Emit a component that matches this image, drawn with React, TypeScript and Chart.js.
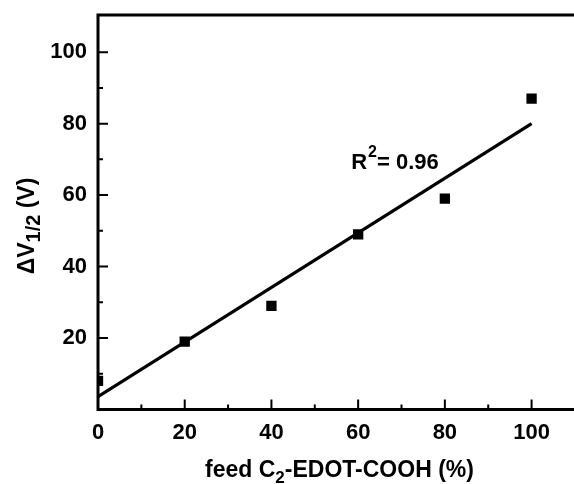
import React, { useEffect, useRef } from "react";
import { Chart, registerables } from "chart.js";

Chart.register(...registerables);

// ---- data ----
const feedPercent = [0, 20, 40, 60, 80, 100];
const deltaV = [8, 19, 29, 49, 59, 87];
const fitX = [0, 100];
const fitY = [3.6, 80.0];
const xTickValues = [0, 20, 40, 60, 80, 100];
const xMinorValues = [10, 30, 50, 70, 90];
const yTickValues = [20, 40, 60, 80, 100];
const yMinorValues = [10, 30, 50, 70, 90];
const r2Label = { base: "R", sup: "2", rest: "= 0.96" };
const r2Anchor = { x: 58.4, y: 67.3 };

const FONT = "'Liberation Sans', Arial, sans-serif";

const framePlugin = {
  id: "frame",
  afterDatasetsDraw(chart: any) {
    const { ctx, chartArea, scales } = chart;
    const { left, top, bottom } = chartArea;
    const right = chart.width;
    const xs = scales.x;
    const ys = scales.y;
    ctx.save();
    ctx.strokeStyle = "#000";
    ctx.lineCap = "butt";
    // ticks
    ctx.lineWidth = 2;
    ctx.beginPath();
    xTickValues.forEach((v) => {
      const px = xs.getPixelForValue(v);
      ctx.moveTo(px, bottom);
      ctx.lineTo(px, bottom - 10);
    });
    xMinorValues.forEach((v) => {
      const px = xs.getPixelForValue(v);
      ctx.moveTo(px, bottom);
      ctx.lineTo(px, bottom - 5);
    });
    yTickValues.forEach((v) => {
      const py = ys.getPixelForValue(v);
      ctx.moveTo(left, py);
      ctx.lineTo(left + 10, py);
    });
    yMinorValues.forEach((v) => {
      const py = ys.getPixelForValue(v);
      ctx.moveTo(left, py);
      ctx.lineTo(left + 5, py);
    });
    ctx.stroke();
    // frame
    ctx.lineWidth = 3;
    ctx.beginPath();
    ctx.moveTo(right, top);
    ctx.lineTo(left, top);
    ctx.lineTo(left, bottom);
    ctx.lineTo(right, bottom);
    ctx.stroke();

    // R^2 annotation
    ctx.fillStyle = "#000";
    ctx.textBaseline = "alphabetic";
    ctx.textAlign = "left";
    let ax = xs.getPixelForValue(r2Anchor.x);
    const ay = ys.getPixelForValue(r2Anchor.y);
    ctx.font = `bold 22px ${FONT}`;
    ctx.fillText(r2Label.base, ax, ay);
    ax += ctx.measureText(r2Label.base).width + 1;
    ctx.font = `bold 16px ${FONT}`;
    ctx.fillText(r2Label.sup, ax, ay - 12);
    ax += ctx.measureText(r2Label.sup).width;
    ctx.font = `bold 22px ${FONT}`;
    ctx.fillText(r2Label.rest, ax, ay);

    // X title
    const parts = [
      { t: "feed C", s: 23, dy: 0 },
      { t: "2", s: 17, dy: 6 },
      { t: "-EDOT-COOH (%)", s: 23, dy: 0 },
    ];
    let total = 0;
    parts.forEach((p) => {
      ctx.font = `bold ${p.s}px ${FONT}`;
      total += ctx.measureText(p.t).width;
    });
    let tx = 339.5 - total / 2;
    const ty = 477;
    parts.forEach((p) => {
      ctx.font = `bold ${p.s}px ${FONT}`;
      ctx.fillText(p.t, tx, ty + p.dy);
      tx += ctx.measureText(p.t).width;
    });

    // Y title (rotated)
    const yparts = [
      { t: "\u0394V", s: 23, dy: 0 },
      { t: "1/2", s: 20, dy: 6 },
      { t: " (V)", s: 23, dy: 0 },
    ];
    let ytotal = 0;
    yparts.forEach((p) => {
      ctx.font = `bold ${p.s}px ${FONT}`;
      ytotal += ctx.measureText(p.t).width;
    });
    ctx.save();
    ctx.translate(34, 226);
    ctx.rotate(-Math.PI / 2);
    let yx = -ytotal / 2;
    yparts.forEach((p) => {
      ctx.font = `bold ${p.s}px ${FONT}`;
      ctx.fillText(p.t, yx, p.dy);
      yx += ctx.measureText(p.t).width;
    });
    ctx.restore();
    ctx.restore();
  },
};

export default function App() {
  const ref = useRef<HTMLCanvasElement>(null);
  useEffect(() => {
    if (!ref.current) return;
    const chart = new Chart(ref.current, {
      type: "scatter",
      data: {
        datasets: [
          {
            type: "line",
            data: fitX.map((x, i) => ({ x, y: fitY[i] })),
            borderColor: "#000",
            borderWidth: 3.2,
            pointRadius: 0,
            fill: false,
            order: 2,
          } as any,
          {
            type: "scatter",
            data: feedPercent.map((x, i) => ({ x, y: deltaV[i] })),
            pointStyle: "rect",
            pointRadius: 7.3,
            pointHoverRadius: 7.3,
            backgroundColor: "#000",
            borderColor: "#000",
            borderWidth: 0,
            clip: 0,
            order: 1,
          } as any,
        ],
      },
      options: {
        responsive: false,
        animation: false,
        events: [],
        layout: { padding: { top: 15, left: 0, right: 0, bottom: 0 } },
        plugins: {
          legend: { display: false },
          tooltip: { enabled: false },
        },
        scales: {
          x: {
            type: "linear",
            min: 0,
            max: 108.1,
            grid: { display: false, drawTicks: false },
            border: { display: false },
            afterBuildTicks: (s: any) => {
              s.ticks = xTickValues.map((v) => ({ value: v }));
            },
            afterFit: (s: any) => {
              s.height = 74.5;
              s.paddingLeft = 0;
              s.paddingRight = 0;
            },
            ticks: {
              color: "#000",
              padding: 10,
              maxRotation: 0,
              autoSkip: false,
              font: { family: FONT, size: 22, weight: "bold" },
            },
          },
          y: {
            type: "linear",
            min: 0,
            max: 110.4,
            grid: { display: false, drawTicks: false },
            border: { display: false },
            afterBuildTicks: (s: any) => {
              s.ticks = yTickValues.map((v) => ({ value: v }));
            },
            afterFit: (s: any) => {
              s.width = 98;
              s.paddingTop = 0;
              s.paddingBottom = 0;
            },
            ticks: {
              color: "#000",
              padding: 11,
              font: { family: FONT, size: 22, weight: "bold" },
            },
          },
        },
      } as any,
      plugins: [framePlugin],
    });
    return () => chart.destroy();
  }, []);
  return (
    <canvas
      ref={ref}
      width={574}
      height={484}
      style={{ position: "absolute", left: 0, top: 0, width: 574, height: 484, background: "#fff" }}
    />
  );
}
